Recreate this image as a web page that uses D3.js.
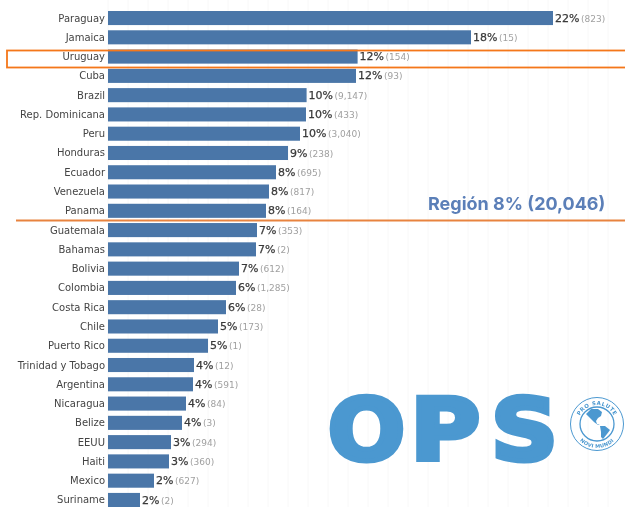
<!DOCTYPE html>
<html><head><meta charset="utf-8">
<script src="https://cdn.jsdelivr.net/npm/d3@7"></script>
<style>html,body{margin:0;padding:0;background:#fff}svg{display:block;filter:blur(0.4px)}</style></head>
<body><svg id="c" width="625" height="507"></svg>
<script>
const countries=["Paraguay","Jamaica","Uruguay","Cuba","Brazil","Rep. Dominicana","Peru","Honduras","Ecuador","Venezuela","Panama","Guatemala","Bahamas","Bolivia","Colombia","Costa Rica","Chile","Puerto Rico","Trinidad y Tobago","Argentina","Nicaragua","Belize","EEUU","Haiti","Mexico","Suriname"];
const rates=[22.25,18.15,12.48,12.4,9.93,9.9,9.6,9.0,8.4,8.05,7.9,7.45,7.4,6.55,6.4,5.9,5.5,5.0,4.3,4.25,3.9,3.7,3.15,3.05,2.3,1.6];
const rateLabels=["22%","18%","12%","12%","10%","10%","10%","9%","8%","8%","8%","7%","7%","7%","6%","6%","5%","5%","4%","4%","4%","4%","3%","3%","2%","2%"];
const counts=["(823)","(15)","(154)","(93)","(9,147)","(433)","(3,040)","(238)","(695)","(817)","(164)","(353)","(2)","(612)","(1,285)","(28)","(173)","(1)","(12)","(591)","(84)","(3)","(294)","(360)","(627)","(2)"];
const gridTicks=d3.range(0,26);
const regionLabel="Región 8% (20,046)";
const logoLetters=["O","P","S"];

const svg=d3.select("#c");
const font="'DejaVu Sans',sans-serif";
const x=d3.scaleLinear().domain([0,25]).range([108,608]);
const y=d3.scaleBand().domain(countries).range([8.4,509.6]).paddingInner(0.27).paddingOuter(0.135);

svg.append("g").selectAll("line").data(gridTicks).join("line")
 .attr("x1",d=>x(d)).attr("x2",d=>x(d)).attr("y1",0).attr("y2",507)
 .attr("stroke","#f8f8f8").attr("stroke-width",1);

svg.append("g").selectAll("rect").data(countries).join("rect")
 .attr("x",x(0)).attr("y",d=>y(d)).attr("height",y.bandwidth())
 .attr("width",(d,i)=>x(rates[i])-x(0)).attr("fill","#4a76a8");

const mid=d=>y(d)+y.bandwidth()/2;
svg.append("g").selectAll("text").data(countries).join("text")
 .attr("x",x(0)-3).attr("y",d=>mid(d)).attr("dy","0.35em").attr("text-anchor","end")
 .attr("font-family",font).attr("font-size",10).attr("fill","#444").text(d=>d);

const lab=svg.append("g").selectAll("text").data(countries).join("text")
 .attr("x",(d,i)=>x(rates[i])+2).attr("y",d=>mid(d)-0.3).attr("dy","0.35em")
 .attr("font-size",11).attr("font-family",font);
lab.append("tspan").attr("font-size",11).attr("fill","#3a3a3a").attr("stroke","#3a3a3a").attr("stroke-width",0.25).text((d,i)=>rateLabels[i]);
lab.append("tspan").attr("dx",1.5).attr("font-size",9).attr("fill","#a0a0a0").text((d,i)=>counts[i]);

// highlight box and regional line
svg.append("rect").attr("x",7).attr("y",50.5).attr("width",625).attr("height",17)
 .attr("fill","none").attr("stroke","#f4771a").attr("stroke-width",1.8);
svg.append("line").attr("x1",16).attr("x2",625).attr("y1",220.5).attr("y2",220.5)
 .attr("stroke","#e8833f").attr("stroke-width",2);
svg.append("text").attr("x",428).attr("y",210).attr("font-family","Inter,'Open Sans',sans-serif")
 .attr("font-size",18).attr("font-weight",700).attr("fill","#5b7fb8").text(regionLabel);

// OPS logo
const blue="#4b98d0";
const logoT={O:"translate(327.8,459.5) scale(1.06,1)",P:"translate(410.3,459.5) scale(1.11,1)",S:"translate(491,459.5) scale(1.08,1)"};
svg.append("g").selectAll("text").data(logoLetters).join("text")
 .attr("transform",d=>logoT[d])
 .attr("font-family",font).attr("font-size",86).attr("font-weight",700)
 .attr("fill",blue).attr("stroke",blue).attr("stroke-width",5).text(d=>d);

const em=svg.append("g").attr("transform","translate(597,424)");
em.append("circle").attr("r",26.5).attr("fill","none").attr("stroke",blue).attr("stroke-width",1);
em.append("circle").attr("r",17).attr("fill","none").attr("stroke",blue).attr("stroke-width",1.3);
const defs=svg.append("defs");
defs.append("path").attr("id","arcT").attr("d","M-19,0 A19,19 0 0 1 19,0");
defs.append("path").attr("id","arcB").attr("d","M-24,0 A24,24 0 0 0 24,0");
em.append("text").attr("font-family",font).attr("font-size",5.4).attr("font-weight",700).attr("fill",blue).attr("letter-spacing",0.5)
 .append("textPath").attr("href","#arcT").attr("startOffset","50%").attr("text-anchor","middle").text("PRO SALUTE");
em.append("text").attr("font-family",font).attr("font-size",5).attr("font-weight",700).attr("fill",blue).attr("letter-spacing",0.3)
 .append("textPath").attr("href","#arcB").attr("startOffset","50%").attr("text-anchor","middle").text("NOVI MUNDI");
em.append("path").attr("fill",blue)
 .attr("d","M-11,-10 L-6,-15 L1,-15 L5,-12 L4,-8 L1,-6 L-1,-3 L0,0 L3,1 L1,1 L-3,-2 L-7,-6 Z M3,2 L8,2 L13,6 L10,10 L6,15 L4,13 L4,8 Z");
</script></body></html>
